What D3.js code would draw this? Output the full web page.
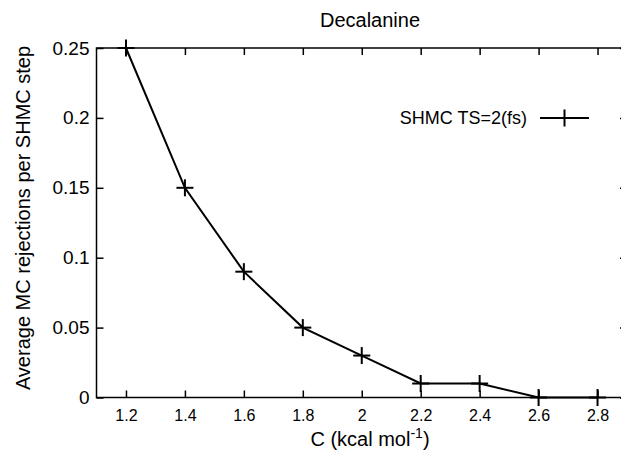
<!DOCTYPE html>
<html>
<head>
<meta charset="utf-8">
<script src="https://cdn.jsdelivr.net/npm/d3@7"></script>
<style>
	body { margin: 0; background: #fff; }
	svg { display: block; font-family: "Liberation Sans", Arial, sans-serif; }
</style>
</head>
<body>
<div id="chart"></div>
<script>

// values
var cValues   = [1.2, 1.4, 1.6, 1.8, 2.0, 2.2, 2.4, 2.6, 2.8];
var rejection = [0.25, 0.15, 0.09, 0.05, 0.03, 0.01, 0.01, 0, 0];
var xTicks    = [1.2, 1.4, 1.6, 1.8, 2.0, 2.2, 2.4, 2.6, 2.8];
var yTicks    = [0, 0.05, 0.1, 0.15, 0.2, 0.25];
var seriesName = "SHMC TS=2(fs)";

var width  = 621,
	height = 452;

// plot box (right edge lies just past the picture, as in the reference)
var plotLeft   = 96.5,
	plotRight  = 627,
	plotTop    = 48,
	plotBottom = 397.5;

var textMid = 370;

var svg = d3.select("#chart")
	.append("svg")
	.attr("width", width)
	.attr("height", height);

var x = d3.scaleLinear().domain([1.1, 2.9]).range([plotLeft, plotRight]);
var y = d3.scaleLinear().domain([0, 0.25]).range([plotBottom, plotTop]);

var tickLen = 7;

// frame
svg.append("rect")
	.attr("x", plotLeft)
	.attr("y", plotTop)
	.attr("width", plotRight - plotLeft)
	.attr("height", plotBottom - plotTop)
	.attr("fill", "none")
	.attr("stroke", "#000")
	.attr("stroke-width", 1.5);

// inward ticks with d3 axes (labels only on bottom/left)
var fmt = function(d) { return String(+d.toFixed(2)); };

var xAxis = svg.append("g")
	.attr("transform", "translate(0," + plotBottom + ")")
	.call(d3.axisBottom(x).tickValues(xTicks).tickSize(-tickLen).tickPadding(12).tickFormat(fmt));

var yAxis = svg.append("g")
	.attr("transform", "translate(" + plotLeft + ",0)")
	.call(d3.axisLeft(y).tickValues(yTicks).tickSize(-tickLen).tickPadding(7).tickFormat(fmt));

svg.append("g")
	.attr("transform", "translate(0," + plotTop + ")")
	.call(d3.axisTop(x).tickValues(xTicks).tickSize(-tickLen).tickFormat(""));

svg.append("g")
	.attr("transform", "translate(" + plotRight + ",0)")
	.call(d3.axisRight(y).tickValues(yTicks).tickSize(-tickLen).tickFormat(""));

svg.selectAll(".domain").remove();
svg.selectAll(".tick line").attr("stroke", "#000").attr("stroke-width", 1.5);
svg.selectAll(".tick text")
	.attr("fill", "#000")
	.style("font-family", "'Liberation Sans', Arial, sans-serif");
xAxis.selectAll(".tick text").style("font-size", "16px");
yAxis.selectAll(".tick text").style("font-size", "19px");

// data line
var line = d3.line()
	.x(function(d) { return x(d[0]); })
	.y(function(d) { return y(d[1]); });

var pts = d3.zip(cValues, rejection);

svg.append("path")
	.datum(pts)
	.attr("d", line)
	.attr("fill", "none")
	.attr("stroke", "#000")
	.attr("stroke-width", 2);

var m = 8.5;
function plus(g, cx, cy) {
	g.append("line").attr("x1", cx - m).attr("x2", cx + m).attr("y1", cy).attr("y2", cy);
	g.append("line").attr("x1", cx).attr("x2", cx).attr("y1", cy - m).attr("y2", cy + m);
}

var marks = svg.append("g").attr("stroke", "#000").attr("stroke-width", 2);
pts.forEach(function(p) { plus(marks, x(p[0]), y(p[1])); });

// legend
var ly = 118;
svg.append("text")
	.attr("x", 527)
	.attr("y", ly)
	.attr("dy", "0.35em")
	.attr("text-anchor", "end")
	.style("font-size", "18px")
	.text(seriesName);

var lg = svg.append("g").attr("stroke", "#000").attr("stroke-width", 2);
lg.append("line").attr("x1", 540).attr("x2", 589).attr("y1", ly).attr("y2", ly);
plus(lg, 564.5, ly);

// title and axis labels
svg.append("text")
	.attr("x", textMid)
	.attr("y", 27)
	.attr("text-anchor", "middle")
	.style("font-size", "20px")
	.text("Decalanine");

var xl = svg.append("text")
	.attr("x", textMid)
	.attr("y", 446)
	.attr("text-anchor", "middle")
	.style("font-size", "20px");
xl.append("tspan").text("C (kcal mol");
xl.append("tspan").attr("dy", -8).style("font-size", "14px").text("-1");
xl.append("tspan").attr("dy", 8).text(")");

svg.append("text")
	.attr("transform", "translate(30,218) rotate(-90)")
	.attr("text-anchor", "middle")
	.style("font-size", "20px")
	.text("Average MC rejections per SHMC step");

</script>
</body>
</html>
